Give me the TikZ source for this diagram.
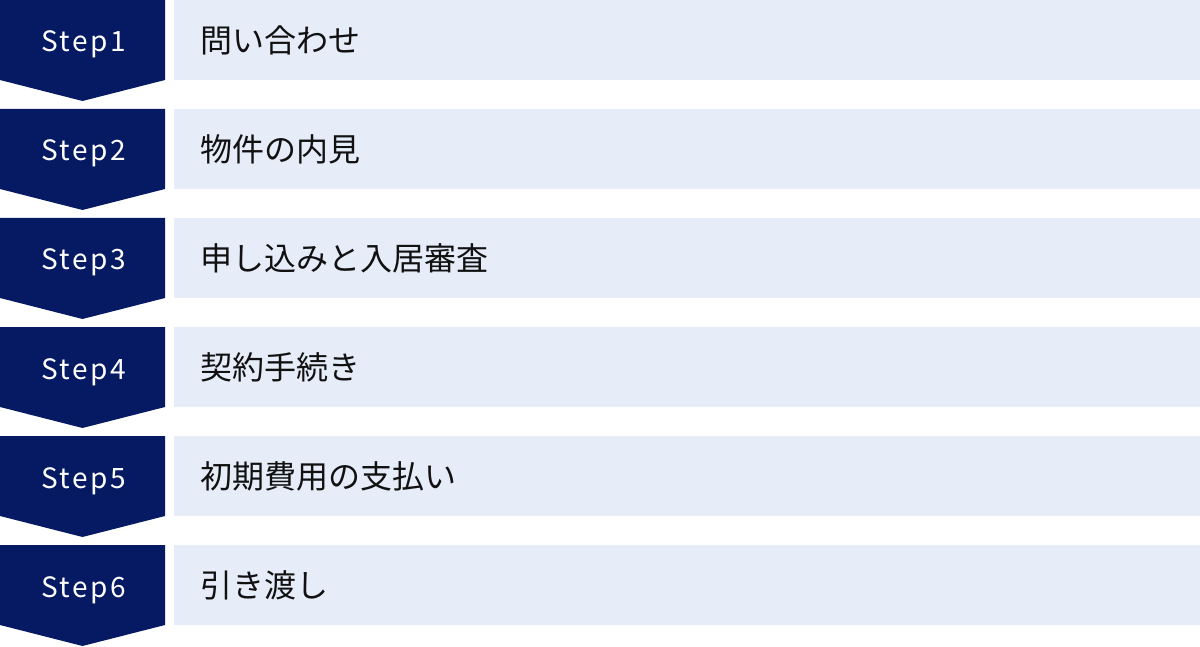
\documentclass[tikz,border=0pt]{standalone}
\usepackage{fontspec}
\setmainfont{Noto Sans CJK JP}
\newfontfamily\stepfont[LetterSpace=9]{Noto Sans CJK JP}
\definecolor{navy}{HTML}{051A63}
\definecolor{paleblue}{HTML}{E6ECF8}
\definecolor{ink}{HTML}{111111}
\tikzset{
  chevron/.style={fill=navy},
  steplabel/.style={text=white,font=\stepfont\fontsize{28}{30}\selectfont,inner sep=0pt,anchor=base},
  taskbox/.style={fill=paleblue,anchor=north west,minimum height=80pt,text width=974pt,
    inner xsep=26pt,inner ysep=0pt,align=left,text=ink,font=\fontsize{32}{34}\selectfont}
}
\begin{document}
\begin{tikzpicture}[x=1pt,y=-1pt]
    \useasboundingbox (0,0) rectangle (1200,647);
    \foreach \i/\txt in {1/問い合わせ,2/物件の内見,3/申し込みと入居審査,4/契約手続き,5/初期費用の支払い,6/引き渡し}{
        \pgfmathsetmacro{\top}{(\i-1)*109}
        \fill[chevron] (0,\top) -- ++(165,0) -- ++(0,80) -- ++(-82.5,21) -- ++(-82.5,-21) -- cycle;
        \node[steplabel] (step\i) at (83.5,\top+52) {Step\i};
        \node[taskbox] (task\i) at (174,\top) {\txt};
    }
\end{tikzpicture}
\end{document}
